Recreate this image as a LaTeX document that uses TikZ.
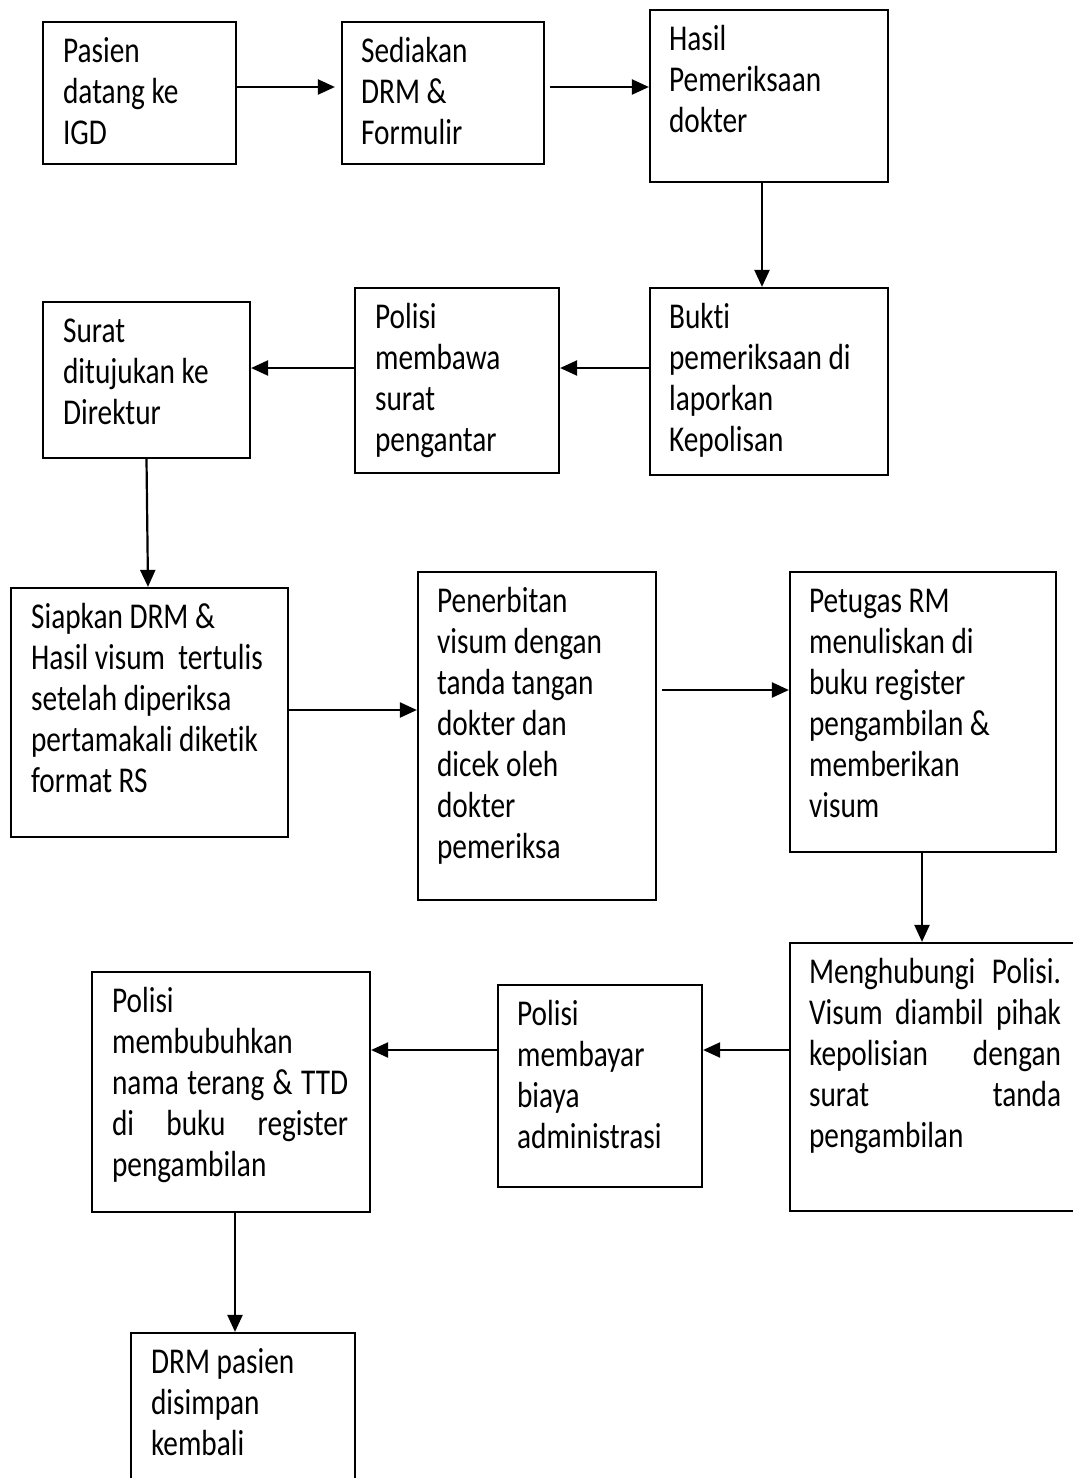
\documentclass[tikz,border=0pt]{standalone}
\usepackage{fontspec}
\setmainfont{Carlito}[Ligatures=NoCommon]
\usetikzlibrary{arrows.meta}

\begin{document}
\begin{tikzpicture}[x=1pt, y=1pt,
  kotak/.style={draw, line width=2.2pt, inner sep=0pt},
  isi/.style={anchor=north west, inner sep=0pt, align=left,
    font=\fontsize{29.3}{33}\selectfont, yscale=1.24},
  panah/.style={line width=2.2pt, -{Triangle[length=17pt, width=15pt]}}]

  \useasboundingbox (0,0) rectangle (1072,-1478);

  % baris pertama
  \node[kotak, minimum width=193pt, minimum height=142pt] (b1) at (139.5,-93) {};
  \node[isi] (t1) at ([shift={(21pt,-13pt)}]b1.north west) {\strut Pasien\\datang ke\\IGD};

  \node[kotak, minimum width=202pt, minimum height=142pt] (b2) at (443,-93) {};
  \node[isi] (t2) at ([shift={(20pt,-13pt)}]b2.north west) {\strut Sediakan\\DRM \&\\Formulir};

  \node[kotak, minimum width=238pt, minimum height=172pt] (b3) at (769,-96) {};
  \node[isi] (t3) at ([shift={(20pt,-13pt)}]b3.north west) {\strut Hasil\\Pemeriksaan\\dokter};

  % baris kedua
  \node[kotak, minimum width=238pt, minimum height=187pt] (b4) at (769,-381.5) {};
  \node[isi] (t4) at ([shift={(20pt,-13pt)}]b4.north west) {\strut Bukti\\pemeriksaan di\\laporkan\\Kepolisan};

  \node[kotak, minimum width=204pt, minimum height=185pt] (b5) at (457,-380.5) {};
  \node[isi] (t5) at ([shift={(21pt,-13pt)}]b5.north west) {\strut Polisi\\membawa\\surat\\pengantar};

  \node[kotak, minimum width=207pt, minimum height=156pt] (b6) at (146.5,-380) {};
  \node[isi] (t6) at ([shift={(21pt,-13pt)}]b6.north west) {\strut Surat\\ditujukan ke\\Direktur};

  % baris ketiga
  \node[kotak, minimum width=277pt, minimum height=249pt] (b7) at (149.5,-712.5) {};
  \node[isi] (t7) at ([shift={(21pt,-13pt)}]b7.north west)
    {\strut Siapkan DRM \&\\Hasil visum\ \ tertulis\\setelah diperiksa\\pertamakali diketik\\format RS};

  \node[kotak, minimum width=238pt, minimum height=328pt] (b8) at (537,-736) {};
  \node[isi] (t8) at ([shift={(20pt,-13pt)}]b8.north west)
    {\strut Penerbitan\\visum dengan\\tanda tangan\\dokter dan\\dicek oleh\\dokter\\pemeriksa};

  \node[kotak, minimum width=266pt, minimum height=280pt] (b9) at (923,-712) {};
  \node[isi] (t9) at ([shift={(20pt,-13pt)}]b9.north west)
    {\strut Petugas RM\\menuliskan di\\buku register\\pengambilan \&\\memberikan\\visum};

  % baris keempat
  \node[kotak, minimum width=293pt, minimum height=268pt] (b10) at (936.5,-1077) {};
  \node[isi] (t10) at ([shift={(20pt,-13pt)}]b10.north west)
    {\strut\makebox[252pt][s]{Menghubungi Polisi.}\\\makebox[252pt][s]{Visum diambil pihak}\\
     \makebox[252pt][s]{kepolisian dengan}\\\makebox[252pt][s]{surat tanda}\\pengambilan};

  \node[kotak, minimum width=204pt, minimum height=202pt] (b11) at (600,-1086) {};
  \node[isi] (t11) at ([shift={(20pt,-13pt)}]b11.north west)
    {\strut Polisi\\membayar\\biaya\\administrasi};

  \node[kotak, minimum width=278pt, minimum height=240pt] (b12) at (231,-1092) {};
  \node[isi] (t12) at ([shift={(21pt,-13pt)}]b12.north west)
    {\strut Polisi\\membubuhkan\\\makebox[236pt][s]{nama terang \& TTD}\\\makebox[236pt][s]{di buku register}\\pengambilan};

  % terakhir
  \node[kotak, minimum width=224pt, minimum height=162pt] (b13) at (243,-1414) {};
  \node[isi] (t13) at ([shift={(21pt,-13pt)}]b13.north west) {\strut DRM pasien\\disimpan\\kembali};

  % panah
  \draw[panah, shorten >=6pt] ([yshift=6pt]b1.east) -- ([yshift=6pt]b2.west);
  \draw[panah] ([shift={(5pt,6pt)}]b2.east) -- ([yshift=9pt]b3.west);
  \draw[panah] ([xshift=-7pt]b3.south) -- ([xshift=-7pt]b4.north);
  \draw[panah] ([yshift=13.5pt]b4.west) -- ([yshift=12.5pt]b5.east);
  \draw[panah] ([yshift=12.5pt]b5.west) -- ([yshift=12pt]b6.east);
  \draw[panah] (b6.south) -- ([xshift=-1.5pt]b7.north);
  \draw[panah] ([yshift=2.5pt]b7.east) -- ([yshift=26pt]b8.west);
  \draw[panah] ([shift={(5pt,46pt)}]b8.east) -- ([yshift=22pt]b9.west);
  \draw[panah] ([xshift=-1pt]b9.south) -- ([xshift=-14.5pt]b10.north);
  \draw[panah] ([yshift=27pt]b10.west) -- ([yshift=36pt]b11.east);
  \draw[panah] ([yshift=36pt]b11.west) -- ([yshift=42pt]b12.east);
  \draw[panah] ([xshift=4pt]b12.south) -- ([xshift=-8pt]b13.north);
\end{tikzpicture}
\end{document}
